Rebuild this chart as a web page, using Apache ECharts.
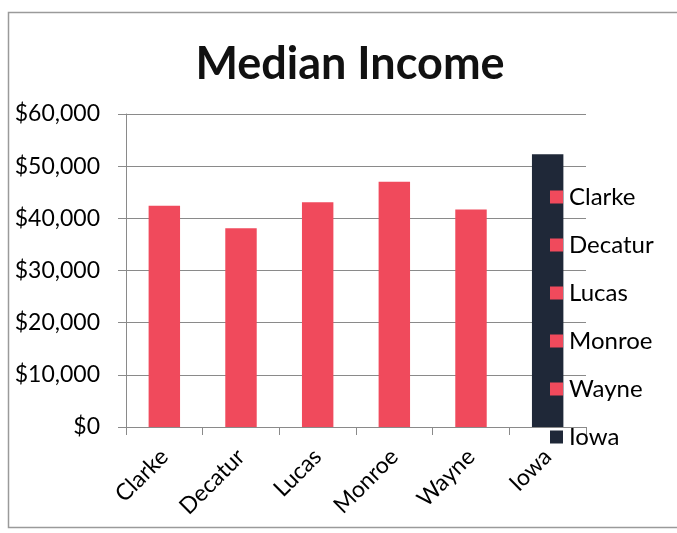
<!DOCTYPE html>
<html>
<head>
<meta charset="utf-8">
<style>
  html, body { margin: 0; padding: 0; background: #fff; }
  #chart { width: 677px; height: 533px; }
</style>
<script src="https://cdn.jsdelivr.net/npm/echarts@6/dist/echarts.min.js"></script>
</head>
<body>
<div id="chart"></div>
<script>
// Median household income by county, with the state figure for comparison
const categories = ['Clarke', 'Decatur', 'Lucas', 'Monroe', 'Wayne', 'Iowa'];
const incomes = [42400, 38100, 43100, 47000, 41700, 52300];
const barColors = ['#F04A5C', '#F04A5C', '#F04A5C', '#F04A5C', '#F04A5C', '#1F2838'];
const yTicks = { min: 0, max: 60000, interval: 10000 };

const FONT = 'Lato, "Open Sans", sans-serif';

// one series per place so each gets its own legend entry; stacking keeps bars centred
const series = categories.map((name, i) => ({
  name: name,
  type: 'bar',
  stack: 'all',
  barWidth: '41%',
  itemStyle: { color: barColors[i] },
  data: categories.map((_, j) => (j === i ? incomes[i] : '-'))
}));

const chart = echarts.init(document.getElementById('chart'), null, { renderer: 'canvas' });
chart.setOption({
  animation: false,
  backgroundColor: '#fff',
  title: {
    text: 'Median Income',
    left: 345,
    top: 37,
    textAlign: 'center',
    textStyle: { fontFamily: FONT, fontWeight: 'bold', fontSize: 45, color: '#111' }
  },
  legend: {
    orient: 'vertical',
    left: 545,
    top: 180,
    itemWidth: 13,
    itemHeight: 13,
    itemGap: 24,
    icon: 'rect',
    data: categories,
    textStyle: { fontFamily: FONT, fontSize: 24, color: '#000', lineHeight: 24, padding: [0, 0, 0, 1] }
  },
  grid: { left: 126, right: 91, top: 114, bottom: 106, containLabel: false },
  xAxis: {
    type: 'category',
    data: categories,
    boundaryGap: true,
    axisLine: { show: true, lineStyle: { color: '#8a8a8a', width: 1 } },
    axisTick: { show: true, length: 8, alignWithLabel: false, lineStyle: { color: '#8a8a8a' } },
    axisLabel: { rotate: 45, margin: 26, fontFamily: FONT, fontSize: 23, color: '#000', interval: 0 }
  },
  yAxis: {
    type: 'value',
    min: yTicks.min,
    max: yTicks.max,
    interval: yTicks.interval,
    axisLine: { show: true, lineStyle: { color: '#8a8a8a', width: 1 } },
    axisTick: { show: true, length: 8, lineStyle: { color: '#8a8a8a' } },
    splitLine: { show: true, lineStyle: { color: '#8a8a8a', width: 1 } },
    axisLabel: {
      margin: 26,
      fontFamily: FONT,
      fontSize: 23,
      color: '#000',
      formatter: v => '$' + v.toLocaleString('en-US')
    }
  },
  graphic: [{
    type: 'rect',
    silent: true,
    z: -1,
    shape: { x: 8.5, y: 12.5, width: 700, height: 515 },
    style: { fill: 'none', stroke: '#9a9a9a', lineWidth: 1.5 }
  }],
  series: series
});
</script>
</body>
</html>
